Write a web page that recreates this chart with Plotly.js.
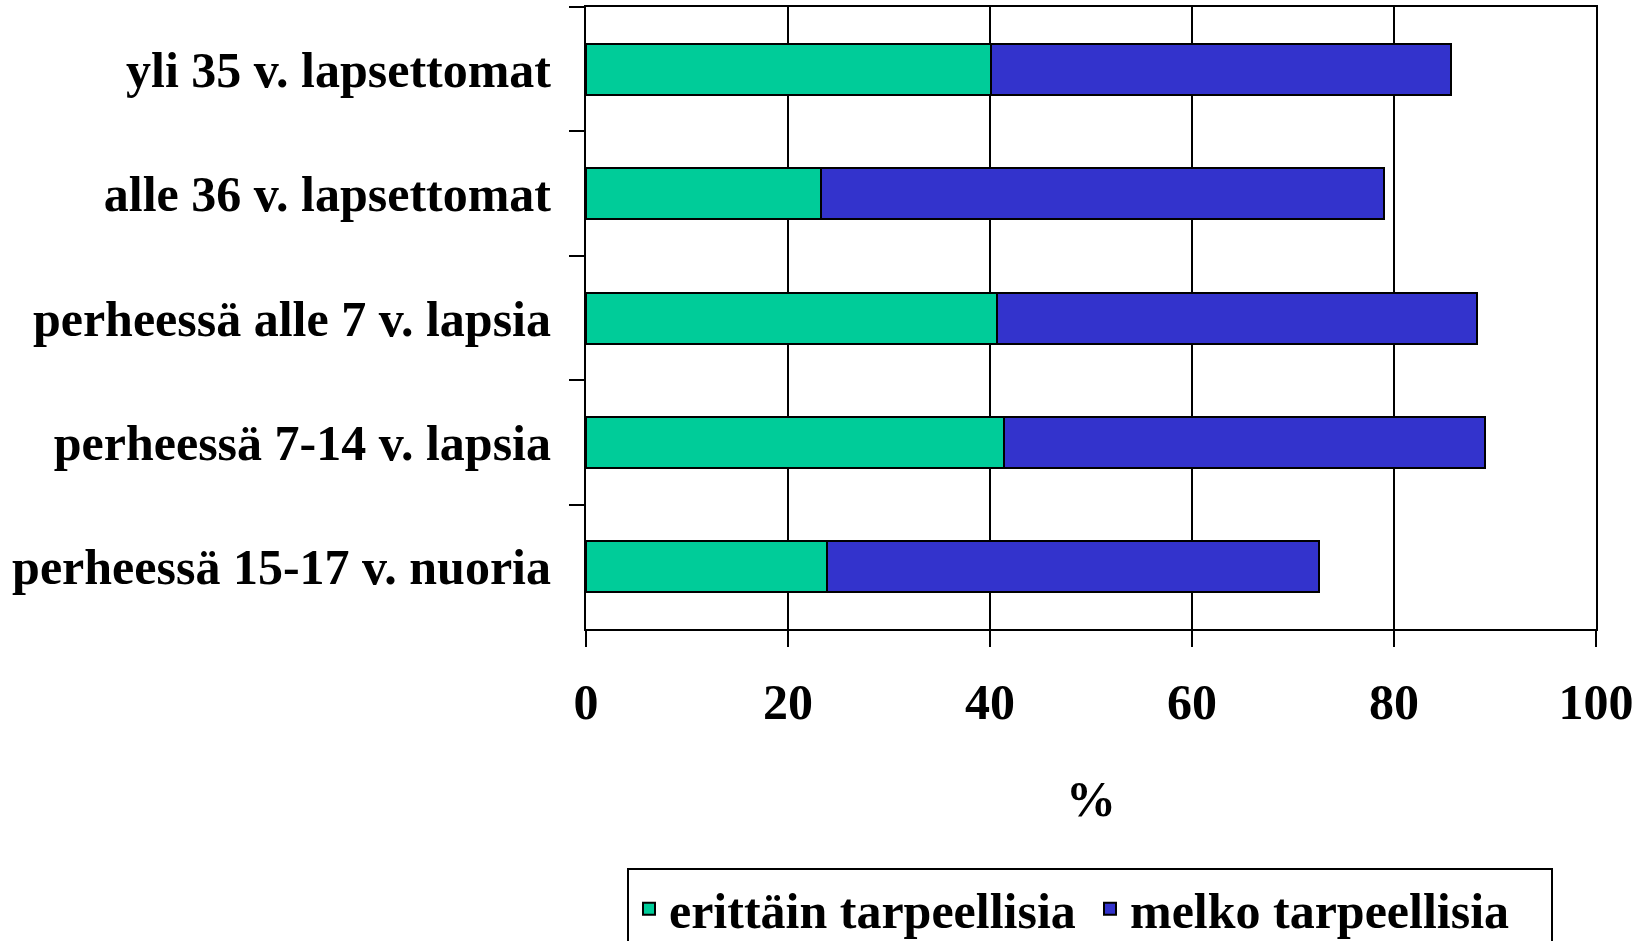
<!DOCTYPE html>
<html>
<head>
<meta charset="utf-8">
<script src="https://cdn.plot.ly/plotly-3.0.1.min.js"></script>
<style>html,body{margin:0;padding:0;background:#fff;}#chart{width:1647px;height:941px;}</style>
</head>
<body>
<div id="chart"></div>
<script>
const categories = [
  "yli 35 v. lapsettomat",
  "alle 36 v. lapsettomat",
  "perheessä alle 7 v. lapsia",
  "perheessä 7-14 v. lapsia",
  "perheessä 15-17 v. nuoria"
];
const erittainTarpeellisia = [40.1, 23.3, 40.7, 41.4, 23.9];
const melkoTarpeellisia = [45.5, 55.7, 47.5, 47.6, 48.7];
const seriesNames = ["erittäin tarpeellisia", "melko tarpeellisia"];
const xTicks = [0, 20, 40, 60, 80, 100];

const font = {family: "'Liberation Serif', 'Times New Roman', serif", size: 50, color: "#000", weight: 700};

const traces = [
  {type: "bar", orientation: "h", name: seriesNames[0], y: categories, x: erittainTarpeellisia,
   marker: {color: "#00CC99", line: {color: "#000", width: 2}}, hoverinfo: "x+y"},
  {type: "bar", orientation: "h", name: seriesNames[1], y: categories, x: melkoTarpeellisia,
   marker: {color: "#3333CC", line: {color: "#000", width: 2}}, hoverinfo: "x+y"}
];

const layout = {
  width: 1647, height: 941,
  paper_bgcolor: "#fff", plot_bgcolor: "#fff",
  margin: {l: 586, r: 51, t: 7, b: 312, autoexpand: false},
  barmode: "stack",
  bargap: 0.59,
  font: font,
  showlegend: true,
  xaxis: {
    range: [0, 100], tickvals: xTicks, ticktext: xTicks.map(String),
    showgrid: true, gridcolor: "#000", gridwidth: 2,
    showline: true, linecolor: "#000", linewidth: 2, mirror: true,
    ticks: "outside", ticklen: 16, tickwidth: 2, tickcolor: "#000",
    ticklabelstandoff: 12,
    zeroline: false,
    tickfont: font,
    automargin: false,
    title: {text: "%", font: font, standoff: 52}
  },
  yaxis: {
    type: "category", autorange: "reversed",
    tickson: "boundaries",
    showgrid: false,
    showline: true, linecolor: "#000", linewidth: 2, mirror: true,
    ticks: "outside", ticklen: 15, tickwidth: 2, tickcolor: "#000",
    ticklabelstandoff: 23,
    automargin: false,
    tickfont: font
  },
  legend: {
    orientation: "h", x: 0.499, xanchor: "center", y: -0.384, yanchor: "top",
    bordercolor: "#000", borderwidth: 2, bgcolor: "#fff",
    entrywidth: 416, entrywidthmode: "pixels",
    font: font, traceorder: "normal"
  }
};

Plotly.newPlot("chart", traces, layout, {displayModeBar: false});
</script>
</body>
</html>
